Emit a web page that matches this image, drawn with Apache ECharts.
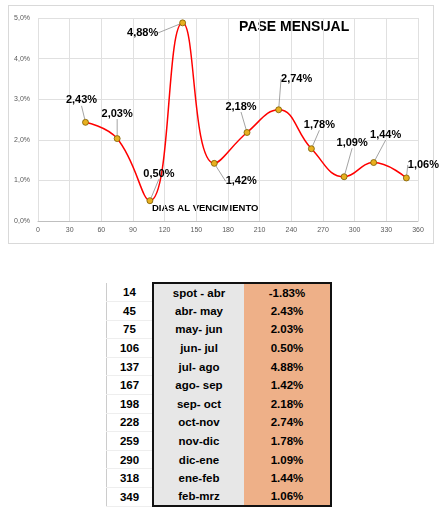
<!DOCTYPE html>
<html><head><meta charset="utf-8">
<script src="https://cdn.jsdelivr.net/npm/echarts@6/dist/echarts.min.js"></script>
<style>
body{margin:0;background:#fff;font-family:"Liberation Sans",Arial,sans-serif;}
#frame{position:absolute;left:8px;top:5px;width:424px;height:237px;border:1px solid #d9d9d9;}
#chart{position:absolute;left:0;top:0;width:440px;height:245px;}
table{position:absolute;left:106px;top:282px;border-collapse:collapse;font-weight:bold;font-size:11.5px;}
td{height:17.6px;padding:0;text-align:center;}
td.n{width:45px;border-left:1px solid #ccc;border-bottom:1px solid #eee;}
td.m{width:90px;background:#e7e7e7;border-left:2px solid #111;}
td.v{width:86px;background:#eeb088;border-right:2px solid #111;}
tr:first-child td.m,tr:first-child td.v{border-top:2px solid #111;}
tr:last-child td.m,tr:last-child td.v{border-bottom:2px solid #111;}
</style></head><body>
<div id="frame"></div>
<div id="chart"></div>
<table id="tbl"></table>
<script>
const days=[45,75,106,137,167,198,228,259,290,318,349];
const pase=[2.43,2.03,0.50,4.88,1.42,2.18,2.74,1.78,1.09,1.44,1.06];
const labelDx=[-4,0,9,-40,27,-6,18,8,8,12,17];
const labelDy=[-22,-25,-27,10,18,-26,-31,-24,-34,-28,-13];
const tblDays=[14,45,75,106,137,167,198,228,259,290,318,349];
const tblTramo=["spot - abr","abr- may","may- jun","jun- jul","jul- ago","ago- sep","sep- oct","oct-nov","nov-dic","dic-ene","ene-feb","feb-mrz"];
const tblPase=["-1.83%","2.43%","2.03%","0.50%","4.88%","1.42%","2.18%","2.74%","1.78%","1.09%","1.44%","1.06%"];

document.getElementById('tbl').innerHTML=tblDays.map((d,i)=>`<tr><td class="n">${d}</td><td class="m">${tblTramo[i]}</td><td class="v">${tblPase[i]}</td></tr>`).join('');

const fmt=v=>v.toFixed(2).replace('.',',')+'%';
const c=echarts.init(document.getElementById('chart'));
c.setOption({
 animation:false,
 grid:{left:38,right:22,top:18,bottom:24},
 xAxis:{type:'value',min:0,max:360,interval:30,
  axisLine:{lineStyle:{color:'#bfbfbf'}},axisTick:{show:false},
  axisLabel:{color:'#595959',fontSize:7,margin:6},splitLine:{show:true,lineStyle:{color:'#e0e0e0'}}},
 yAxis:{type:'value',min:0,max:5,interval:1,
  axisLabel:{color:'#595959',fontSize:7,formatter:v=>v.toFixed(1).replace('.',',')+'%'},
  splitLine:{lineStyle:{color:'#e0e0e0'}},axisLine:{show:false},axisTick:{show:false}},
 graphic:[
  {type:'text',left:239,top:20,style:{text:'PASE MENSUAL',font:'bold 14px "Liberation Sans",Arial',fill:'#000'}},
  {type:'text',left:152,top:203,style:{text:'DIAS AL VENCIMIENTO',font:'bold 9.5px "Liberation Sans",Arial',fill:'#000'}}
 ],
 series:[{type:'line',smooth:0.45,
  data:days.map((d,i)=>[d,pase[i]]),
  lineStyle:{color:'#ff0000',width:1.5},
  symbol:'circle',symbolSize:6,
  itemStyle:{color:'#e8b020',borderColor:'#7a5a00',borderWidth:0.8},
  label:{show:true,position:'inside',formatter:p=>fmt(p.value[1]),
   fontSize:11,fontWeight:'bold',color:'#000'},
  labelLine:{show:true,lineStyle:{color:'#8c8c8c',width:0.8}},
  labelLayout:p=>({dx:labelDx[p.dataIndex],dy:labelDy[p.dataIndex]})
 }]
});
</script></body></html>
